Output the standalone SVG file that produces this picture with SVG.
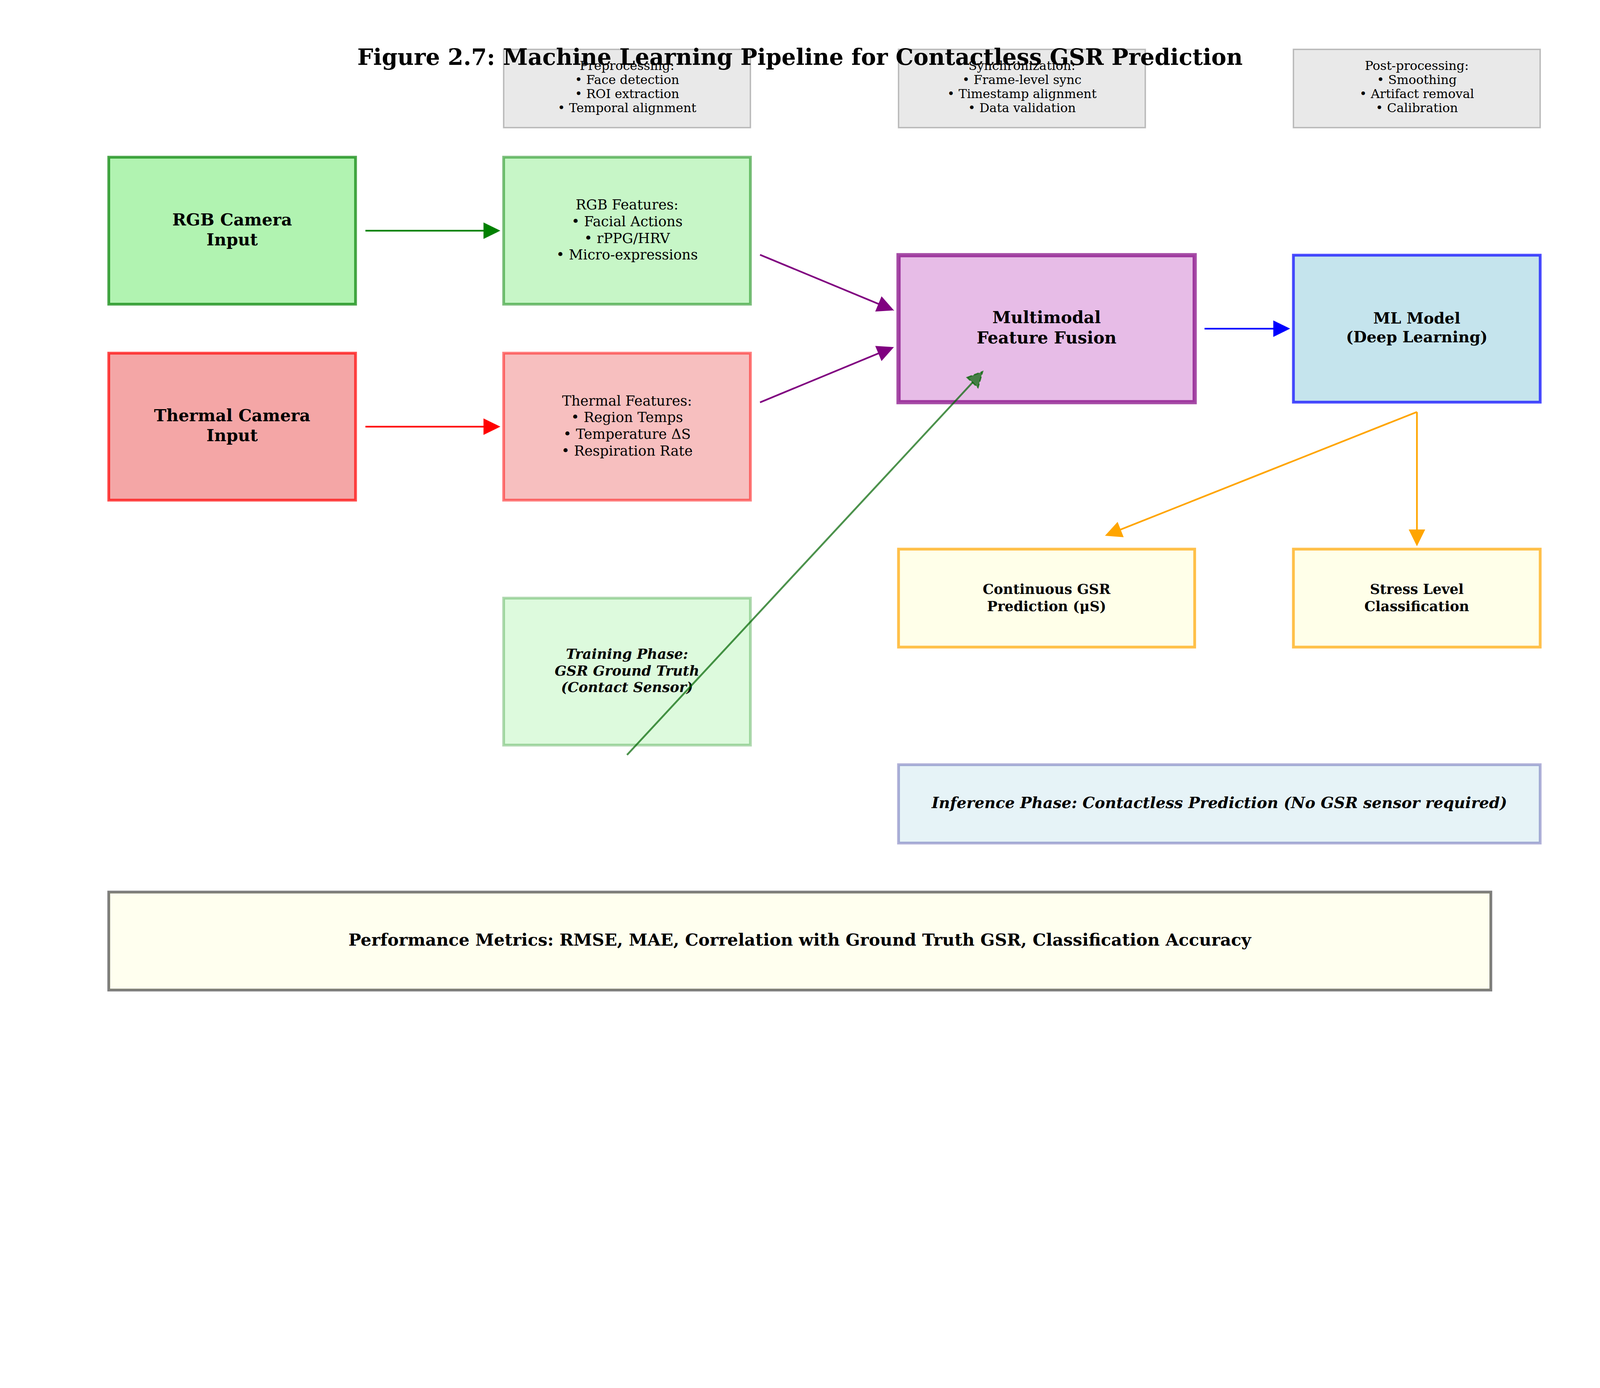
<svg xmlns="http://www.w3.org/2000/svg" width="4752" height="3552" viewBox="0 0 4752 3552" preserveAspectRatio="xMinYMin meet" style="width:100%;height:100%">
<style>
text{font-family:"DejaVu Serif","Liberation Serif",serif;fill:#000;text-anchor:middle}
.t{font-size:66.7px;font-weight:bold}
.b12{font-size:49.5px;font-weight:bold}
.m12{font-size:50px;font-weight:bold}
.b11{font-size:45.8px;font-weight:bold}
.b10{font-size:41.25px;font-weight:bold}
.n10{font-size:41.25px}
.n9{font-size:37.1px}
.bi10{font-size:41.25px;font-weight:bold;font-style:italic}
.bi11{font-size:45.8px;font-weight:bold;font-style:italic}
.lw1{stroke-width:4.1}
.lw2{stroke-width:8.25}
.lw3{stroke-width:12.4}
.gray{fill:#D3D3D3;fill-opacity:.5;stroke:#808080;stroke-opacity:.5}
.sh{fill:none;stroke-width:5}
</style>
<rect width="4752" height="3552" fill="#fff"/>
<g id="preprocessing">
<rect class="gray lw1" x="1495.8" y="146.5" width="733" height="232.5"/>
<text class="n9"><tspan x="1862.3" y="208">Preprocessing:</tspan><tspan x="1862.3" y="249.5">• Face detection</tspan><tspan x="1862.3" y="291">• ROI extraction</tspan><tspan x="1862.3" y="332.5">• Temporal alignment</tspan></text>
</g>
<g id="synchronization">
<rect class="gray lw1" x="2668.6" y="146.5" width="733" height="232.5"/>
<text class="n9"><tspan x="3035.1" y="208">Synchronization:</tspan><tspan x="3035.1" y="249.5">• Frame-level sync</tspan><tspan x="3035.1" y="291">• Timestamp alignment</tspan><tspan x="3035.1" y="332.5">• Data validation</tspan></text>
</g>
<g id="postprocessing">
<rect class="gray lw1" x="3841.4" y="146.5" width="733" height="232.5"/>
<text class="n9"><tspan x="4207.9" y="208">Post-processing:</tspan><tspan x="4207.9" y="249.5">• Smoothing</tspan><tspan x="4207.9" y="291">• Artifact removal</tspan><tspan x="4207.9" y="332.5">• Calibration</tspan></text>
</g>
<g id="rgb-camera">
<rect class="lw2" x="323" y="466.7" width="733" height="436.4" fill="#90EE90" fill-opacity="0.7" stroke="#008000" stroke-opacity="0.7"/>
<text class="b12"><tspan x="689.5" y="669.1">RGB Camera</tspan><tspan x="689.5" y="728.5">Input</tspan></text>
</g>
<g id="thermal-camera">
<rect class="lw2" x="323" y="1048.5" width="733" height="436.4" fill="#F08080" fill-opacity="0.7" stroke="#FF0000" stroke-opacity="0.7"/>
<text class="b12"><tspan x="689.5" y="1250.9">Thermal Camera</tspan><tspan x="689.5" y="1310.3">Input</tspan></text>
</g>
<g id="rgb-features">
<rect class="lw2" x="1495.8" y="466.7" width="733" height="436.4" fill="#90EE90" fill-opacity="0.5" stroke="#008000" stroke-opacity="0.5"/>
<text class="n10"><tspan x="1862.3" y="622.2">RGB Features:</tspan><tspan x="1862.3" y="671.7">• Facial Actions</tspan><tspan x="1862.3" y="721.2">• rPPG/HRV</tspan><tspan x="1862.3" y="770.7">• Micro-expressions</tspan></text>
</g>
<g id="thermal-features">
<rect class="lw2" x="1495.8" y="1048.5" width="733" height="436.4" fill="#F08080" fill-opacity="0.5" stroke="#FF0000" stroke-opacity="0.5"/>
<text class="n10"><tspan x="1862.3" y="1204">Thermal Features:</tspan><tspan x="1862.3" y="1253.5">• Region Temps</tspan><tspan x="1862.3" y="1303">• Temperature ΔS</tspan><tspan x="1862.3" y="1352.5">• Respiration Rate</tspan></text>
</g>
<g id="training-phase">
<rect class="lw2" x="1495.8" y="1775.8" width="733" height="436.4" fill="#90EE90" fill-opacity="0.3" stroke="#008000" stroke-opacity="0.3"/>
<text class="bi10"><tspan x="1862.3" y="1956">Training Phase:</tspan><tspan x="1862.3" y="2005.5">GSR Ground Truth</tspan><tspan x="1862.3" y="2055">(Contact Sensor)</tspan></text>
</g>
<g id="feature-fusion">
<rect class="lw3" x="2668.6" y="757.6" width="879.6" height="436.4" fill="#DDA0DD" fill-opacity="0.7" stroke="#800080" stroke-opacity="0.7"/>
<text class="b12"><tspan x="3108.4" y="960">Multimodal</tspan><tspan x="3108.4" y="1019.4">Feature Fusion</tspan></text>
</g>
<g id="ml-model">
<rect class="lw2" x="3841.4" y="757.6" width="733" height="436.4" fill="#ADD8E6" fill-opacity="0.7" stroke="#0000FF" stroke-opacity="0.7"/>
<text class="b11"><tspan x="4207.9" y="961.1">ML Model</tspan><tspan x="4207.9" y="1016.1">(Deep Learning)</tspan></text>
</g>
<g id="gsr-prediction">
<rect class="lw2" x="2668.6" y="1630.3" width="879.6" height="290.9" fill="#FFFFE0" fill-opacity="0.7" stroke="#FFA500" stroke-opacity="0.7"/>
<text class="b10"><tspan x="3108.4" y="1763.5">Continuous GSR</tspan><tspan x="3108.4" y="1814">Prediction (μS)</tspan></text>
</g>
<g id="stress-classification">
<rect class="lw2" x="3841.4" y="1630.3" width="733" height="290.9" fill="#FFFFE0" fill-opacity="0.7" stroke="#FFA500" stroke-opacity="0.7"/>
<text class="b10"><tspan x="4207.9" y="1763.5">Stress Level</tspan><tspan x="4207.9" y="1814">Classification</tspan></text>
</g>
<g id="inference-phase">
<rect class="lw2" x="2668.6" y="2270.3" width="1905.8" height="232.7" fill="#ADD8E6" fill-opacity="0.3" stroke="#000080" stroke-opacity="0.3"/>
<text class="bi11" x="3621.5" y="2399.4">Inference Phase: Contactless Prediction (No GSR sensor required)</text>
</g>
<g id="performance-metrics">
<rect class="lw2" x="323" y="2648.5" width="4104.8" height="290.9" fill="#FFFFE0" fill-opacity="0.5" stroke="#000000" stroke-opacity="0.5"/>
<text class="m12" x="2375.4" y="2808">Performance Metrics: RMSE, MAE, Correlation with Ground Truth GSR, Classification Accuracy</text>
</g>
<g id="connectors">
<line class="sh" x1="1085.3" y1="684.9" x2="1440" y2="684.9" stroke="#008000"/>
<polygon points="1436,660.4 1486,684.9 1436,709.4" fill="#008000"/>
<line class="sh" x1="1085.3" y1="1266.7" x2="1440" y2="1266.7" stroke="#FF0000"/>
<polygon points="1436,1242.2 1486,1266.7 1436,1291.2" fill="#FF0000"/>
<line class="sh" x1="2257.3" y1="756.4" x2="2612" y2="903.5" stroke="#800080"/>
<polygon points="2599.4,924.8 2655,921.4 2618.2,879.6" fill="#800080"/>
<line class="sh" x1="2257.3" y1="1194.6" x2="2612" y2="1048" stroke="#800080"/>
<polygon points="2618.1,1072.1 2655,1030.4 2599.4,1026.9" fill="#800080"/>
<line class="sh" x1="3577.5" y1="975.8" x2="3785" y2="975.8" stroke="#0000FF"/>
<polygon points="3781.7,951.3 3831.7,975.8 3781.7,1000.3" fill="#0000FF"/>
<line class="sh" x1="4208.3" y1="1223" x2="4208.3" y2="1575" stroke="#FFA500"/>
<polygon points="4183.8,1572.1 4208.3,1622 4232.8,1572.1" fill="#FFA500"/>
<line class="sh" x1="4208.3" y1="1223" x2="3325" y2="1573.4" stroke="#FFA500"/>
<polygon points="3319.3,1549.3 3281.8,1590.5 3337.3,1594.9" fill="#FFA500"/>
<line x1="1862.3" y1="2241.2" x2="2890" y2="1134" stroke="#006400" stroke-opacity="0.7" stroke-width="5.5"/>
<polygon points="2872.4,1120.8 2918.3,1103.3 2904.6,1150.8" fill="#006400" fill-opacity="0.7" stroke="#006400" stroke-opacity="0.7" stroke-width="4" stroke-dasharray="15 6.6"/>
</g>
<g id="title">
<text class="t" x="2376" y="193">Figure 2.7: Machine Learning Pipeline for Contactless GSR Prediction</text>
</g>
</svg>
